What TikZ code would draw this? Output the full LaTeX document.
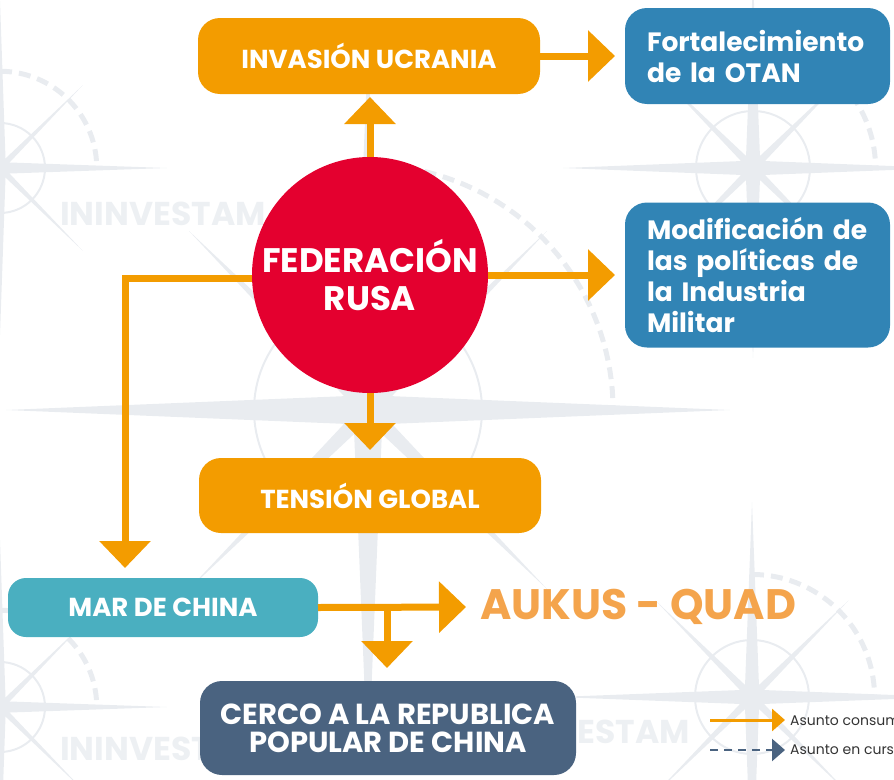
\documentclass[tikz,border=0pt]{standalone}
\usepackage{fontspec}
\setmainfont{Poppins}
\usetikzlibrary{positioning,arrows.meta}

\definecolor{naranja}{HTML}{F39C00}
\definecolor{aukus}{HTML}{F4A44C}
\definecolor{rojo}{HTML}{E4002F}
\definecolor{azul}{HTML}{3184B5}
\definecolor{turquesa}{HTML}{4AAFC0}
\definecolor{pizarra}{HTML}{4A6380}
\definecolor{marca}{HTML}{E9ECF0}
\definecolor{texto}{HTML}{333333}

\tikzset{
  caja/.style={rounded corners=22pt, text=white, align=center, inner sep=0pt, outer sep=0pt,
    font=\bfseries\fontsize{26}{30}\selectfont},
  cajaazul/.style={caja, fill=azul, align=left, minimum width=265pt, text width=221pt,
    font=\bfseries\fontsize{26.5}{31}\selectfont},
  flecha/.style={draw=naranja, line width=7pt, -{Triangle[length=27pt,width=50pt]}},
  marcaagua/.style={text=marca!80!white, inner sep=0pt, font=\bfseries\fontsize{33}{35}\selectfont},
}

% compass rose of the background: x, y, radius, needle length
\newcommand{\brujula}[4]{%
  \begin{scope}[shift={(#1,#2)}]
    \draw[marca, line width=2pt] (0,0) circle[radius=#3];
    \fill[marca] (-#4,0) -- (0,-0.13*#3) -- (#4,0) -- (0,0.13*#3) -- cycle;
    \fill[marca] (0,-#4) -- (0.13*#3,0) -- (0,#4) -- (-0.13*#3,0) -- cycle;
    \fill[marca, rotate=45] (-0.7*#4,0) -- (0,-0.07*#3) -- (0.7*#4,0) -- (0,0.07*#3) -- cycle;
    \fill[marca, rotate=-45] (-0.7*#4,0) -- (0,-0.07*#3) -- (0.7*#4,0) -- (0,0.07*#3) -- cycle;
    \draw[marca, line width=5pt, dash pattern=on 12pt off 7pt]
      plot[domain=-90:0, samples=40] ({2.15*#3*cos(\x)},{2.15*#3*sin(\x)});
  \end{scope}}

\begin{document}
\begin{tikzpicture}[x=1pt, y=-1pt]
  \useasboundingbox (0,0) rectangle (894,779);
  \clip (0,0) rectangle (894,779);

  % background
  \brujula{0}{168}{45}{167}
  \brujula{0}{707}{45}{167}
  \brujula{368}{410}{114}{362}
  \brujula{753}{168}{57}{190}
  \brujula{752}{697}{57}{195}
  \node[marcaagua, anchor=west] (marca1) at (60,214) {ININVESTAM};
  \node[marcaagua, anchor=west] (marca2) at (60,749) {ININVEST};
  \node[marcaagua, anchor=east] (marca3) at (690,732) {ESTAM};

  % nodes
  \node (invasion) [caja, fill=naranja, minimum width=342pt, minimum height=76pt] at (369,56) {INVASIÓN UCRANIA};
  \node (otan) [cajaazul, minimum height=96pt, right=85pt of invasion] {Fortalecimiento\\de la OTAN};
  \node (rusa) [circle, fill=rojo, text=white, align=center, minimum size=236pt, inner sep=0pt, outer sep=0pt,
    font=\bfseries\fontsize{34}{38}\selectfont] at (370,275) {FEDERACIÓN\\RUSA};
  \node (industria) [cajaazul, minimum height=145pt, right=137pt of rusa] {Modificación de\\las políticas de\\la Industria\\Militar};
  \node (tension) [caja, fill=naranja, minimum width=342pt, minimum height=75pt, below=65pt of rusa] {TENSIÓN GLOBAL};
  \node (mar) [caja, fill=turquesa, rounded corners=18pt, minimum width=310pt, minimum height=59pt] at (163,607.5) {MAR DE CHINA};
  \node (aukus) [anchor=west, inner sep=0pt, text=aukus, font=\bfseries\fontsize{42.6}{45}\selectfont] at (480,607) {AUKUS - QUAD};
  \node (cerco) [caja, fill=pizarra, minimum width=376pt, minimum height=94pt,
    font=\bfseries\fontsize{29}{28}\selectfont] at (388,728) {CERCO A LA REPUBLICA\\POPULAR DE CHINA};

  % connectors
  \draw[flecha, shorten >=3pt] (rusa.north) -- (invasion.south -| rusa.north);
  \draw[flecha, shorten >=10pt] (invasion.east) -- (otan.west);
  \draw[flecha, shorten >=10pt] (rusa.east) -- (industria.west);
  \draw[flecha, shorten >=8pt] (rusa.south) -- (tension.north -| rusa.south);
  \draw[flecha, shorten >=10pt] ([yshift=-3pt]rusa.west) -| ([xshift=-38pt]mar.north);
  \draw[flecha, shorten >=14pt] (mar.east) -- (aukus.west);
  \coordinate (ramal) at (387,607.5);
  \draw[flecha, shorten >=13pt] (ramal) -- (cerco.north -| ramal);

  % legend
  \coordinate (leyenda1) at (710,720);
  \coordinate (leyenda2) at (710,750);
  \node (consumado) [anchor=west, inner sep=0pt, text=texto, font=\fontsize{14}{16}\selectfont] at (790,720) {Asunto consumado};
  \node (curso) [anchor=west, inner sep=0pt, text=texto, font=\fontsize{14}{16}\selectfont] at (790,750) {Asunto en curso};
  \draw[naranja, line width=3pt, shorten >=5pt, -{Triangle[length=13pt,width=22pt]}] (leyenda1) -- (consumado.west);
  \draw[pizarra, line width=2.5pt, shorten >=5pt, dash pattern=on 8pt off 6pt, -{Triangle[length=13pt,width=22pt]}] (leyenda2) -- (curso.west);
\end{tikzpicture}
\end{document}
